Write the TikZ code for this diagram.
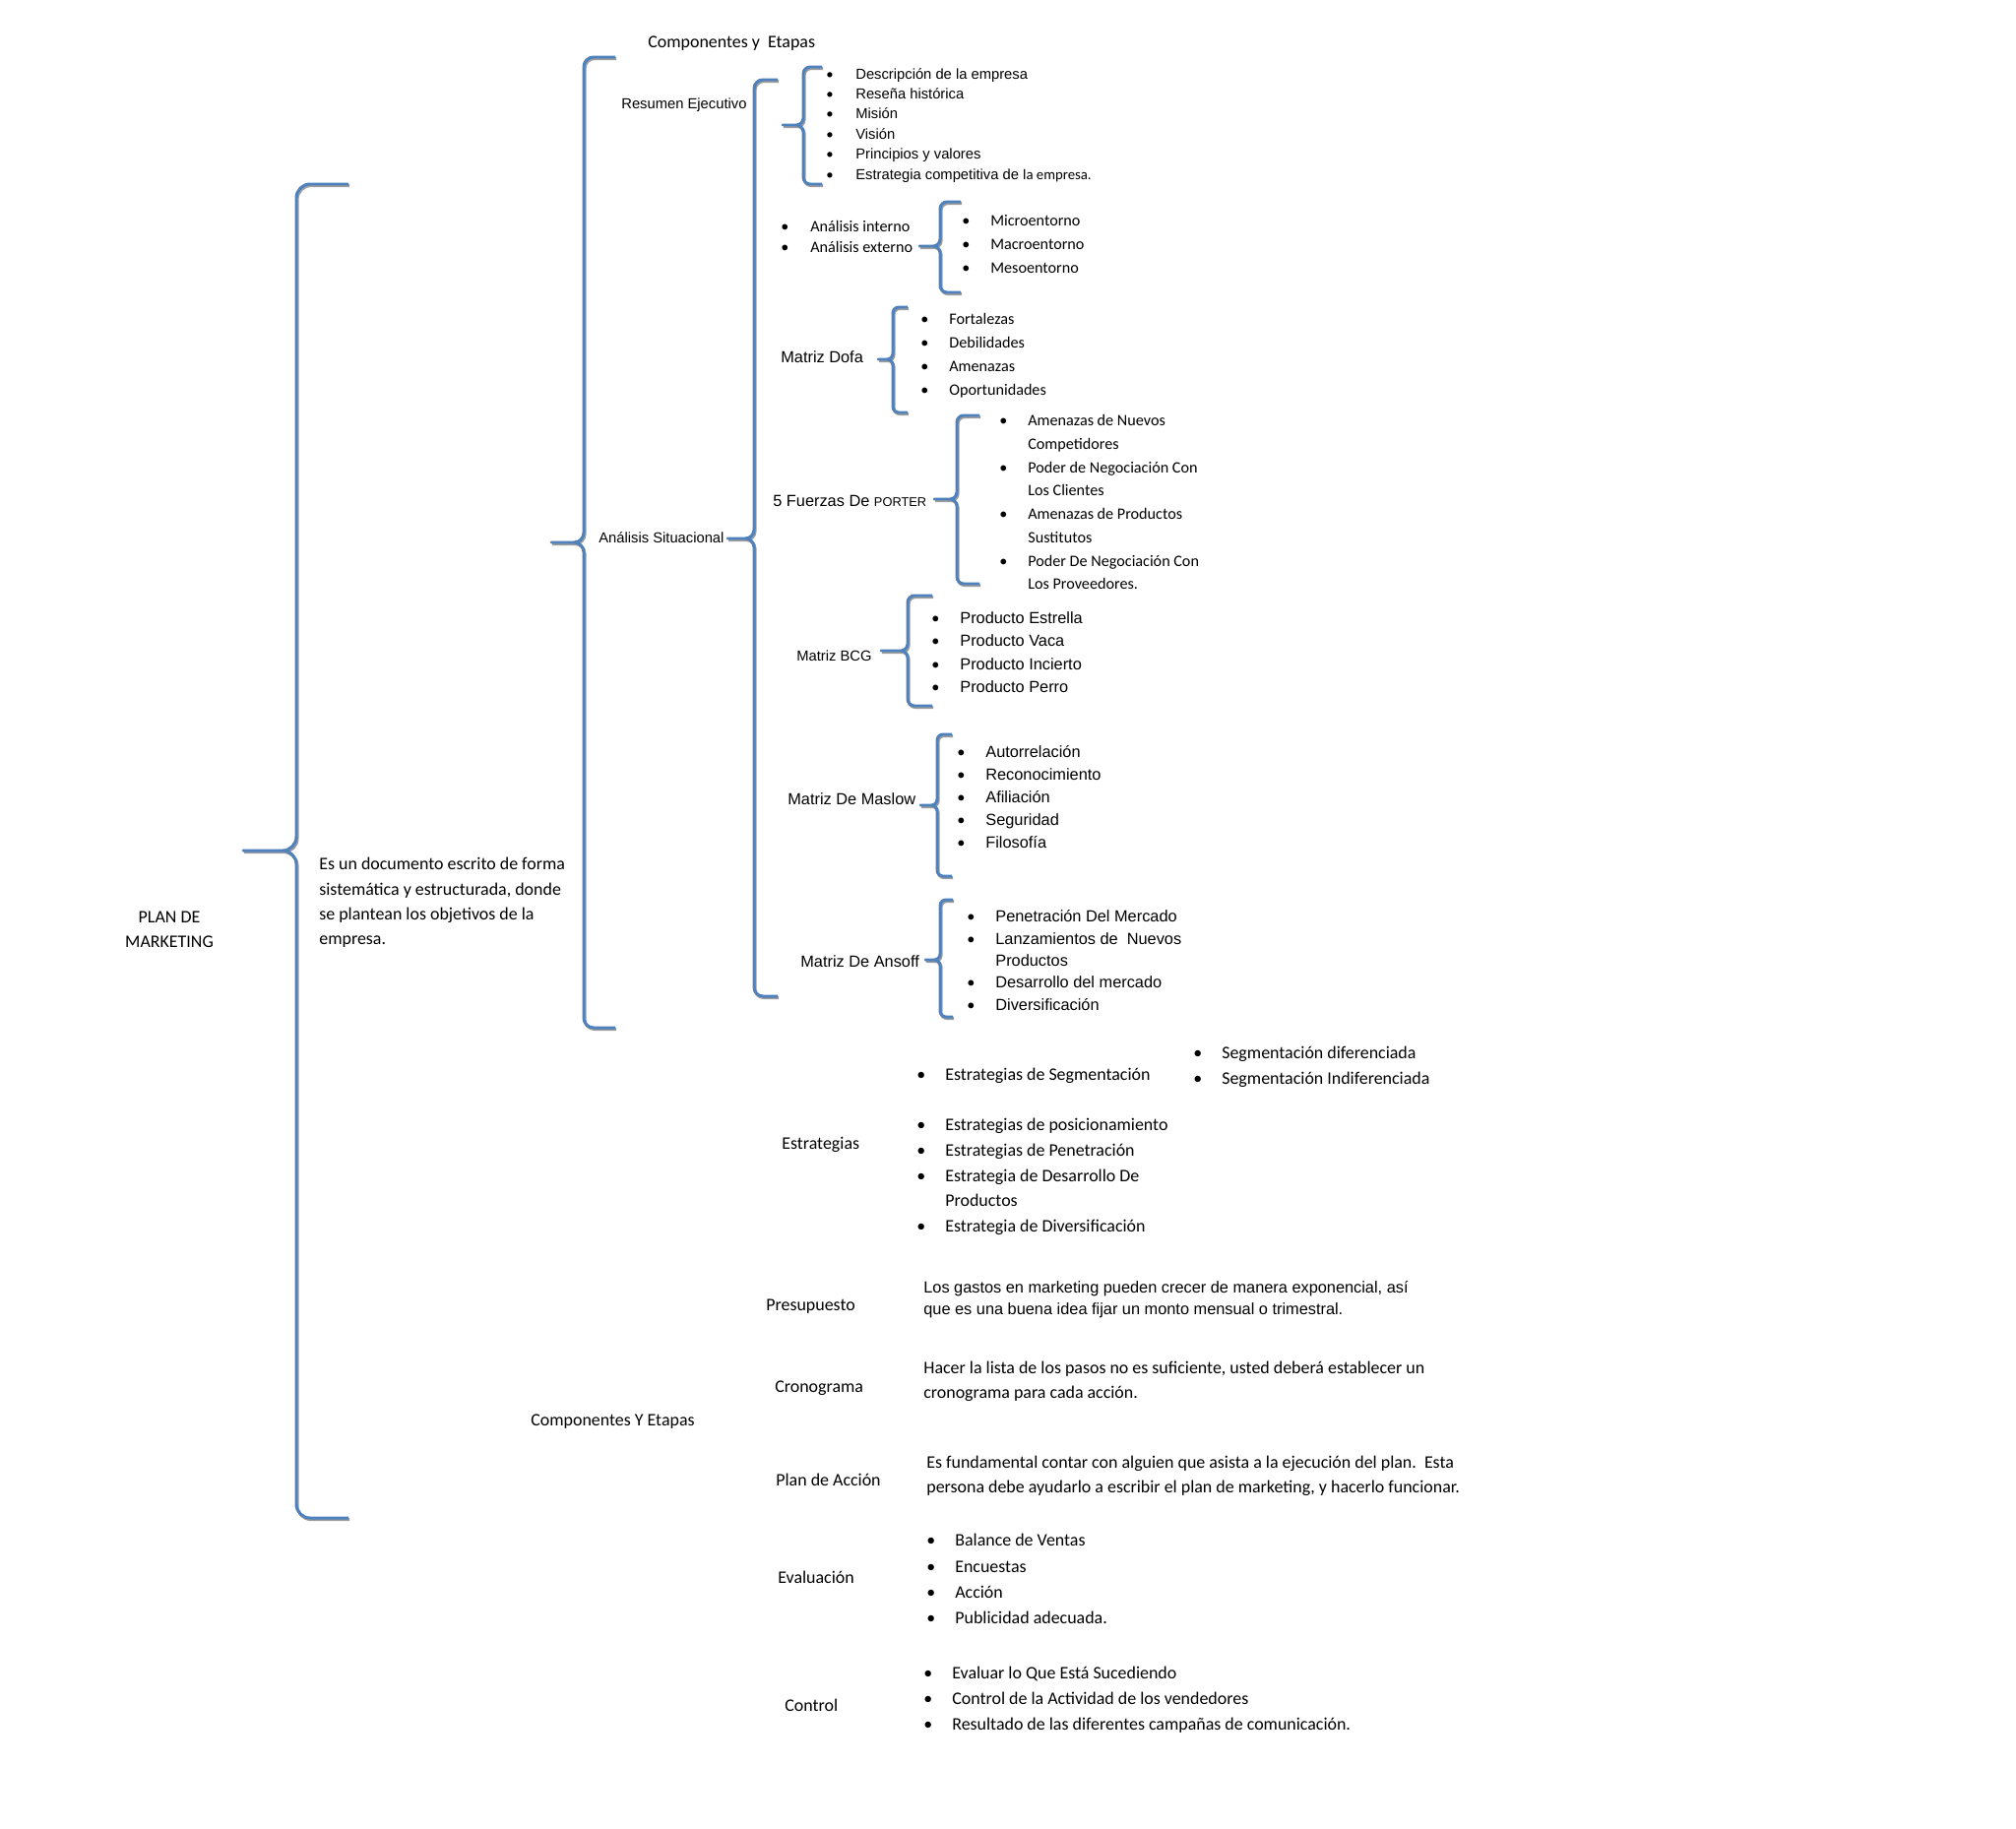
\documentclass[tikz,border=0pt]{standalone}
\usepackage{fontspec}
\setmainfont{Carlito}
\newfontfamily\arialfont{Liberation Sans}
\usepackage{tikz}
\definecolor{braceblue}{HTML}{4F81BD}
\definecolor{braceshade}{HTML}{9C9C9C}

\begin{document}
\begin{tikzpicture}[
  x=0.02cm, y=-0.02cm,
  lbl/.style={anchor=west, inner sep=0pt},
  arsm/.style={font=\arialfont\fontsize{8.4}{#1}\selectfont},
  arsm/.default=11.6,
  armd/.style={font=\arialfont\fontsize{9.3}{#1}\selectfont},
  armd/.default=13.3,
  casm/.style={font=\fontsize{9.2}{#1}\selectfont},
  casm/.default=13.6,
  cabg/.style={font=\fontsize{10.2}{#1}\selectfont},
  cabg/.default=14.8,
  mapbrace/.style={
    draw=braceblue,
    line width=1.7pt,
    line join=round,
    preaction={draw=braceshade, line width=1.7pt,
      transform canvas={xshift=0.6pt, yshift=-0.9pt}}
  }
]

% --- Page (reference size in px) ---
\path[fill=white] (0,0) rectangle (2048,1858);
\useasboundingbox (0,0) rectangle (2048,1858);

% --- Braces: top arm, spine, tip, spine, bottom arm ---
% main brace (plan de marketing)
\draw[mapbrace] (354,187) -- (315,187) to[out=180,in=90] (301,201) -- (301,850)
  to[out=-90,in=0] (287,864) -- (247,864) -- (287,864) to[out=0,in=90] (301,878)
  -- (301,1528) to[out=-90,in=180] (315,1542) -- (354,1542);
% componentes y etapas
\draw[mapbrace] (625,58) -- (603,58) to[out=180,in=90] (593,68) -- (593,541)
  to[out=-90,in=0] (583,551) -- (560,551) -- (583,551) to[out=0,in=90] (593,561)
  -- (593,1034) to[out=-90,in=180] (603,1044) -- (625,1044);
% resumen / analisis situacional
\draw[mapbrace] (790,81) -- (775,81) to[out=180,in=90] (766,90) -- (766,538)
  to[out=-90,in=0] (757,547) -- (739,547) -- (757,547) to[out=0,in=90] (766,556)
  -- (766,1003) to[out=-90,in=180] (775,1012) -- (790,1012);
% resumen ejecutivo items
\draw[mapbrace] (835,68) -- (823,68) to[out=180,in=90] (816,75) -- (816,120)
  to[out=-90,in=0] (809,127) -- (795,127) -- (809,127) to[out=0,in=90] (816,134)
  -- (816,180) to[out=-90,in=180] (823,187) -- (835,187);
% entornos
\draw[mapbrace] (976,205) -- (962,205) to[out=180,in=90] (955,212) -- (955,243)
  to[out=-90,in=0] (948,250) -- (934,250) -- (948,250) to[out=0,in=90] (955,257)
  -- (955,290) to[out=-90,in=180] (962,297) -- (976,297);
% dofa
\draw[mapbrace] (922,312) -- (913,312) to[out=180,in=90] (907,318) -- (907,359)
  to[out=-90,in=0] (901,365) -- (892,365) -- (901,365) to[out=0,in=90] (907,371)
  -- (907,413) to[out=-90,in=180] (913,419) -- (922,419);
% porter
\draw[mapbrace] (995,422) -- (979,422) to[out=180,in=90] (972,429) -- (972,500)
  to[out=-90,in=0] (965,507) -- (949,507) -- (965,507) to[out=0,in=90] (972,514)
  -- (972,586) to[out=-90,in=180] (979,593) -- (995,593);
% bcg
\draw[mapbrace] (947,605) -- (929,605) to[out=180,in=90] (922,612) -- (922,654)
  to[out=-90,in=0] (915,661) -- (895,661) -- (915,661) to[out=0,in=90] (922,668)
  -- (922,710) to[out=-90,in=180] (929,717) -- (947,717);
% maslow
\draw[mapbrace] (967,746) -- (958,746) to[out=180,in=90] (952,752) -- (952,812)
  to[out=-90,in=0] (946,818) -- (935,818) -- (946,818) to[out=0,in=90] (952,824)
  -- (952,884) to[out=-90,in=180] (958,890) -- (967,890);
% ansoff
\draw[mapbrace] (968,914) -- (961,914) to[out=180,in=90] (955,920) -- (955,969)
  to[out=-90,in=0] (949,975) -- (940,975) -- (949,975) to[out=0,in=90] (955,981)
  -- (955,1027) to[out=-90,in=180] (961,1033) -- (968,1033);

% --- Left side ---
\node[cabg=14.2, align=center, inner sep=0pt] (plan) at (172,944) {PLAN DE\\MARKETING};
\node[lbl, cabg=14.4, align=left] (definicion) at (324,917)
  {Es un documento escrito de forma\\sistemática y estructurada, donde\\se plantean los objetivos de la\\empresa.};
\node[lbl, cabg] (etapas) at (539,1444) {Componentes Y Etapas};

% --- Upper group ---
\node[lbl, cabg] (titulo) at (658,44) {Componentes y~~Etapas};
\node[lbl, arsm] (resumen) at (631,107) {Resumen Ejecutivo};
\node[lbl, arsm] (situacional) at (608,546) {Análisis Situacional};

\node[lbl, arsm=11.6] (resumenlist) at (839,127) {\begin{tabular}{@{}p{.6cm}@{}l@{}}
  {\normalfont •} & Descripción de la empresa\\
  {\normalfont •} & Reseña histórica\\
  {\normalfont •} & Misión\\
  {\normalfont •} & Visión\\
  {\normalfont •} & Principios y valores\\
  {\normalfont •} & Estrategia competitiva de {\normalfont\fontsize{8.4}{11.6}\selectfont la empresa.}
\end{tabular}};

\node[lbl, casm=11.4] (analisis) at (793,242) {\begin{tabular}{@{}p{.6cm}@{}l@{}}
  • & Análisis interno\\
  • & Análisis externo
\end{tabular}};
\node[lbl, casm=13.7] (entornos) at (977,249) {\begin{tabular}{@{}p{.58cm}@{}l@{}}
  • & Microentorno\\
  • & Macroentorno\\
  • & Mesoentorno
\end{tabular}};

\node[lbl, armd] (dofa) at (793,363) {Matriz Dofa};
\node[lbl, casm=13.6] (dofalist) at (935,361) {\begin{tabular}{@{}p{.58cm}@{}l@{}}
  • & Fortalezas\\
  • & Debilidades\\
  • & Amenazas\\
  • & Oportunidades
\end{tabular}};

\node[lbl, armd] (porter) at (785,509) {5 Fuerzas De {\fontsize{7.3}{9}\selectfont PORTER}};
\node[lbl, casm=13.5] (porterlist) at (1015,511) {\begin{tabular}{@{}p{.58cm}@{}l@{}}
  • & Amenazas de Nuevos\\
    & Competidores\\
  • & Poder de Negociación Con\\
    & Los Clientes\\
  • & Amenazas de Productos\\
    & Sustitutos\\
  • & Poder De Negociación Con\\
    & Los Proveedores.
\end{tabular}};

\node[lbl, arsm] (bcg) at (809,666) {Matriz BCG};
\node[lbl, armd=13.3] (bcglist) at (946,664) {\begin{tabular}{@{}p{.58cm}@{}l@{}}
  {\normalfont •} & Producto Estrella\\
  {\normalfont •} & Producto Vaca\\
  {\normalfont •} & Producto Incierto\\
  {\normalfont •} & Producto Perro
\end{tabular}};

\node[lbl, armd] (maslow) at (800,812) {Matriz De Maslow};
\node[lbl, armd=13] (maslowlist) at (972,811) {\begin{tabular}{@{}p{.58cm}@{}l@{}}
  {\normalfont •} & Autorrelación\\
  {\normalfont •} & Reconocimiento\\
  {\normalfont •} & Afiliación\\
  {\normalfont •} & Seguridad\\
  {\normalfont •} & Filosofía
\end{tabular}};

\node[lbl, armd] (ansoff) at (813,977) {Matriz De Ansoff};
\node[lbl, armd=12.8] (ansofflist) at (982,977) {\begin{tabular}{@{}p{.58cm}@{}l@{}}
  {\normalfont •} & Penetración Del Mercado\\
  {\normalfont •} & Lanzamientos de~~Nuevos\\
    & Productos\\
  {\normalfont •} & Desarrollo del mercado\\
  {\normalfont •} & Diversificación
\end{tabular}};

% --- Lower group (no braces) ---
\node[lbl, cabg] (estrategias) at (794,1163) {Estrategias};
\node[lbl, cabg] (segmentacion) at (931,1092) {\begin{tabular}{@{}p{.58cm}@{}l@{}}
  • & Estrategias de Segmentación
\end{tabular}};
\node[lbl, cabg=14.8] (segtipos) at (1212,1083) {\begin{tabular}{@{}p{.58cm}@{}l@{}}
  • & Segmentación diferenciada\\
  • & Segmentación Indiferenciada
\end{tabular}};
\node[lbl, cabg=14.65] (estratlist) at (931,1195) {\begin{tabular}{@{}p{.58cm}@{}l@{}}
  • & Estrategias de posicionamiento\\
  • & Estrategias de Penetración\\
  • & Estrategia de Desarrollo De\\
    & Productos\\
  • & Estrategia de Diversificación
\end{tabular}};

\node[lbl, cabg] (presupuesto) at (778,1327) {Presupuesto};
\node[lbl, armd=12.2, align=left] (presutext) at (938,1320)
  {Los gastos en marketing pueden crecer de manera exponencial, así\\que es una buena idea fijar un monto mensual o trimestral.};

\node[lbl, cabg] (cronograma) at (787,1410) {Cronograma};
\node[lbl, cabg=14.2, align=left] (cronotext) at (938,1403)
  {Hacer la lista de los pasos no es suficiente, usted deberá establecer un\\cronograma para cada acción.};

\node[lbl, cabg] (accion) at (788,1503) {Plan de Acción};
\node[lbl, cabg=14.2, align=left] (acciontext) at (941,1499)
  {Es fundamental contar con alguien que asista a la ejecución del plan.~~Esta\\persona debe ayudarlo a escribir el plan de marketing, y hacerlo funcionar.};

\node[lbl, cabg] (evaluacion) at (790,1602) {Evaluación};
\node[lbl, cabg=15] (evallist) at (941,1605) {\begin{tabular}{@{}p{.58cm}@{}l@{}}
  • & Balance de Ventas\\
  • & Encuestas\\
  • & Acción\\
  • & Publicidad adecuada.
\end{tabular}};

\node[lbl, cabg] (control) at (797,1732) {Control};
\node[lbl, cabg=14.8] (controllist) at (938,1726) {\begin{tabular}{@{}p{.58cm}@{}l@{}}
  • & Evaluar lo Que Está Sucediendo\\
  • & Control de la Actividad de los vendedores\\
  • & Resultado de las diferentes campañas de comunicación.
\end{tabular}};

\end{tikzpicture}
\end{document}
